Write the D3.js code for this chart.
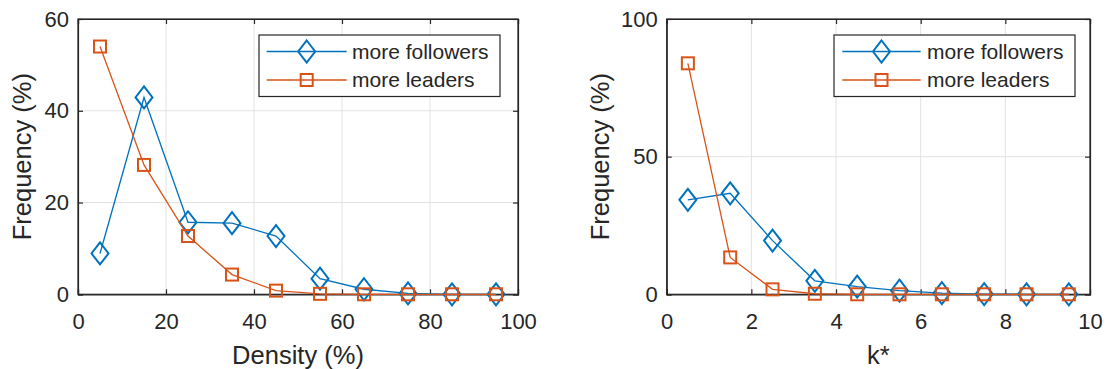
<!DOCTYPE html>
<html><head><meta charset="utf-8">
<script src="https://cdn.jsdelivr.net/npm/d3@7"></script>
<style>body{margin:0;background:#fff}svg{display:block}text{font-family:"Liberation Sans",Arial,Helvetica,sans-serif;fill:#262626}</style>
</head><body>
<svg id="chart" width="1106" height="369"></svg>
<script>
// Left panel: Density
const densityBins = [5, 15, 25, 35, 45, 55, 65, 75, 85, 95];
const densityFollowers = [8.9, 42.9, 15.7, 15.5, 12.7, 3.4, 1.1, 0.2, 0, 0];
const densityLeaders = [54.0, 28.2, 12.7, 4.3, 0.8, 0.1, 0, 0, 0, 0];
const densityXTicks = [0, 20, 40, 60, 80, 100];
const densityYTicks = [0, 20, 40, 60];
// Right panel: k*
const kBins = [0.5, 1.5, 2.5, 3.5, 4.5, 5.5, 6.5, 7.5, 8.5, 9.5];
const kFollowers = [34.3, 36.7, 19.5, 4.9, 2.8, 1.3, 0.4, 0.1, 0, 0];
const kLeaders = [83.9, 13.4, 1.8, 0.2, 0, 0, 0, 0, 0, 0];
const kXTicks = [0, 2, 4, 6, 8, 10];
const kYTicks = [0, 50, 100];
const seriesNames = ["more followers", "more leaders"];
const seriesColors = ["#0072BD", "#D95319"];

const svg = d3.select("#chart");
const AX = "#262626";

function panel(cfg) {
  const g = svg.append("g");
  const x = d3.scaleLinear().domain(cfg.xDomain).range([cfg.left, cfg.right]);
  const y = d3.scaleLinear().domain(cfg.yDomain).range([cfg.bottom, cfg.top]);
  // grid
  g.append("g").selectAll("line").data(cfg.xTicks.slice(1, -1)).join("line")
    .attr("x1", d => x(d)).attr("x2", d => x(d)).attr("y1", cfg.top).attr("y2", cfg.bottom)
    .attr("stroke", "#e3e3e3").attr("stroke-width", 1);
  g.append("g").selectAll("line").data(cfg.yTicks.slice(1, -1)).join("line")
    .attr("y1", d => y(d)).attr("y2", d => y(d)).attr("x1", cfg.left).attr("x2", cfg.right)
    .attr("stroke", "#e3e3e3").attr("stroke-width", 1);
  // axes via d3 axis (inward ticks)
  const xb = g.append("g").attr("transform", `translate(0,${cfg.bottom})`)
    .call(d3.axisBottom(x).tickValues(cfg.xTicks).tickSize(-5).tickPadding(19).tickFormat(d3.format("d")));
  const xt = g.append("g").attr("transform", `translate(0,${cfg.top})`)
    .call(d3.axisTop(x).tickValues(cfg.xTicks).tickSize(-5).tickFormat(""));
  const yl = g.append("g").attr("transform", `translate(${cfg.left},0)`)
    .call(d3.axisLeft(y).tickValues(cfg.yTicks).tickSize(-5).tickPadding(9).tickFormat(d3.format("d")));
  const yr = g.append("g").attr("transform", `translate(${cfg.right},0)`)
    .call(d3.axisRight(y).tickValues(cfg.yTicks).tickSize(-5).tickFormat(""));
  [xb, xt, yl, yr].forEach(a => {
    a.select(".domain").attr("stroke", AX).attr("stroke-width", 1.2);
    a.selectAll(".tick line").attr("stroke", AX).attr("stroke-width", 1.2);
    a.selectAll(".tick text").attr("fill", AX).style("font-size", "22px")
      .style("font-family", '"Liberation Sans",Arial,sans-serif');
  });
  g.append("rect").attr("x", cfg.left).attr("y", cfg.top).attr("width", cfg.right - cfg.left)
    .attr("height", cfg.bottom - cfg.top).attr("fill", "none").attr("stroke", AX).attr("stroke-width", 1.2);

  // labels
  g.append("text").attr("x", (cfg.left + cfg.right) / 2).attr("y", 355).attr("dy", "0.35em")
    .attr("text-anchor", "middle").style("font-size", "25.5px").text(cfg.xLabel);
  g.append("text").attr("transform", `translate(${cfg.yLabelX},${(cfg.top + cfg.bottom) / 2}) rotate(-90)`)
    .attr("dy", "0.35em").attr("text-anchor", "middle").style("font-size", "25.5px").text(cfg.yLabel);

  const line = d3.line().x(d => x(d[0])).y(d => y(d[1]));
  const series = [cfg.followers, cfg.leaders];
  series.forEach((vals, i) => {
    const pts = cfg.bins.map((b, j) => [b, vals[j]]);
    g.append("path").datum(pts).attr("d", line).attr("fill", "none")
      .attr("stroke", seriesColors[i]).attr("stroke-width", 1.3);
    const mg = g.append("g");
    if (i === 0) {
      mg.selectAll("path").data(pts).join("path")
        .attr("d", d => `M${x(d[0])},${y(d[1]) - 11}L${x(d[0]) + 8.5},${y(d[1])}L${x(d[0])},${y(d[1]) + 11}L${x(d[0]) - 8.5},${y(d[1])}Z`)
        .attr("fill", "none").attr("stroke", seriesColors[i]).attr("stroke-width", 2);
    } else {
      mg.selectAll("rect").data(pts).join("rect")
        .attr("x", d => x(d[0]) - 6).attr("y", d => y(d[1]) - 6).attr("width", 12).attr("height", 12)
        .attr("fill", "none").attr("stroke", seriesColors[i]).attr("stroke-width", 2);
    }
  });

  // legend
  const L = cfg.legend;
  const lg = g.append("g");
  lg.append("rect").attr("x", L.x0).attr("y", 35).attr("width", L.x1 - L.x0).attr("height", 61.5)
    .attr("fill", "#fff").attr("stroke", AX).attr("stroke-width", 1.2);
  const rows = [51.5, 80];
  seriesNames.forEach((name, i) => {
    const yy = rows[i];
    lg.append("line").attr("x1", L.l0).attr("x2", L.l1).attr("y1", yy).attr("y2", yy)
      .attr("stroke", seriesColors[i]).attr("stroke-width", 1.3);
    const mx = (L.l0 + L.l1) / 2;
    if (i === 0) {
      lg.append("path").attr("d", `M${mx},${yy - 11}L${mx + 8.5},${yy}L${mx},${yy + 11}L${mx - 8.5},${yy}Z`)
        .attr("fill", "none").attr("stroke", seriesColors[i]).attr("stroke-width", 2);
    } else {
      lg.append("rect").attr("x", mx - 6).attr("y", yy - 6).attr("width", 12).attr("height", 12)
        .attr("fill", "none").attr("stroke", seriesColors[i]).attr("stroke-width", 2);
    }
    lg.append("text").attr("x", L.tx).attr("y", yy).attr("dy", "0.35em")
      .style("font-size", "21px").text(name);
  });
}

panel({
  left: 78, right: 518, top: 19, bottom: 294.3,
  xDomain: [0, 100], yDomain: [0, 60], xTicks: densityXTicks, yTicks: densityYTicks,
  bins: densityBins, followers: densityFollowers, leaders: densityLeaders,
  xLabel: "Density (%)", yLabel: "Frequency (%)", yLabelX: 22,
  legend: {x0: 259, x1: 500, l0: 266.7, l1: 346.7, tx: 352}
});
panel({
  left: 666.7, right: 1090, top: 19, bottom: 294.3,
  xDomain: [0, 10], yDomain: [0, 100], xTicks: kXTicks, yTicks: kYTicks,
  bins: kBins, followers: kFollowers, leaders: kLeaders,
  xLabel: "k*", yLabel: "Frequency (%)", yLabelX: 600,
  legend: {x0: 834, x1: 1075, l0: 842.3, l1: 920.7, tx: 927}
});
</script>
</body></html>
